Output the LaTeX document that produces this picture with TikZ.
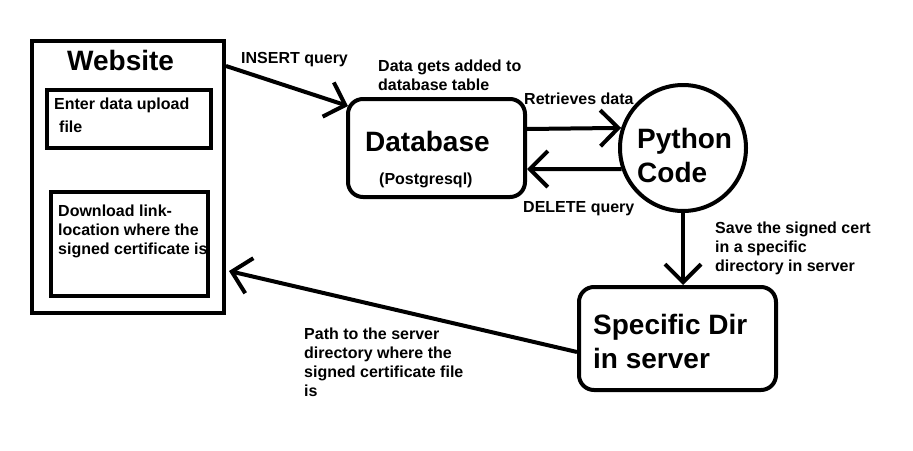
\documentclass[tikz,border=0pt]{standalone}
\usepackage{fontspec}
\setmainfont{Liberation Sans}
\usetikzlibrary{positioning,calc,arrows.meta}
\tikzset{
	box/.style={draw,line width=4pt,inner sep=0pt},
	rbox/.style={box,rounded corners=15pt},
	small/.style={font=\fontsize{16}{19}\selectfont\bfseries,inner sep=0pt,anchor=base west,align=left},
	large/.style={font=\fontsize{28}{34}\selectfont\bfseries,inner sep=0pt,anchor=base west,align=left},
	flow/.style={line width=4pt,-{Straight Barb[length=18pt,width=36pt]}}
}

\begin{document}
\begin{tikzpicture}[x=1pt,y=-1pt]
	\useasboundingbox[fill=white] (0,0) rectangle (913,450);
	
	% website side (text nodes sit on their last baseline)
	\node[box,minimum width=192pt,minimum height=272pt] (web) at (128,177) {};
	\node[box,minimum width=164pt,minimum height=58pt] (upload) at (129,119) {};
	\node[box,minimum width=157pt,minimum height=104pt] (download) at (129.5,244) {};
	\node[large] (webtitle) at (67,70) {Website};
	\node[small] (uploadtext) at (54,132) {Enter data upload\\[4pt]\hspace{5pt}file};
	\node[small] (downloadtext) at (58,254) {Download link-\\location where the\\signed certificate is};
	
	% database, python, server dir
	\node[rbox,minimum width=177pt,minimum height=98pt] (db) at (436.5,148) {};
	\node[large] (dbtext) at (365,151) {Database};
	\node[small] (pgtext) at (379,184) {(Postgresql)};
	
	\node[box,circle,minimum size=126pt] (py) at (683,148) {};
	\node[large] (pytext) at (637,182) {Python\\Code};
	
	\node[rbox,minimum width=197pt,minimum height=103pt] (dir) at (677.5,338.5) {};
	\node[large] (dirtext) at (593,368) {Specific Dir\\in server};
	
	% labels
	\node[small] (insert) at (241,63) {INSERT query};
	\node[small] (added) at (378,90) {Data gets added to\\database table};
	\node[small] (retrieve) at (524,104) {Retrieves data};
	\node[small] (delete) at (523,212) {DELETE query};
	\node[small] (save) at (715,271) {Save the signed cert\\in a specific\\directory in server};
	\node[small] (path) at (304,396) {Path to the server\\directory where the\\signed certificate file\\is};
	
	\draw[flow] ([yshift=-27pt]web.north east) -- ([xshift=2pt,yshift=-9pt]db.north west);
	\draw[flow] ([yshift=19pt]db.east) -- (py.162);
	\draw[flow] (py.199) -- ([yshift=-21pt]db.east);
	\draw[flow] (py.south) -- (py.south |- dir.north);
	\draw[flow] ([yshift=-13.5pt]dir.west) -- ([xshift=3pt,yshift=-94pt]web.east);
	
\end{tikzpicture}
\end{document}
